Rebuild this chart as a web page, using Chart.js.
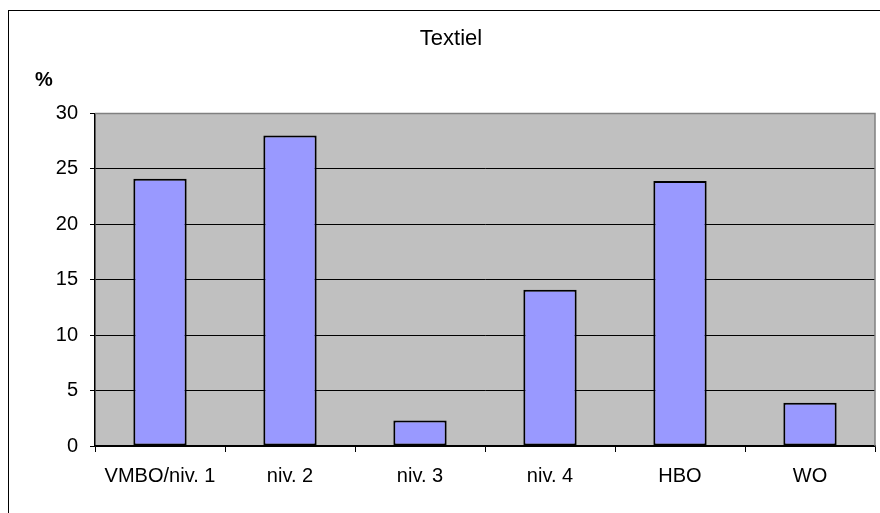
<!DOCTYPE html>
<html>
<head>
<meta charset="utf-8">
<script src="https://cdn.jsdelivr.net/npm/chart.js@4.4.0/dist/chart.umd.min.js"></script>
<style>
    html, body { margin: 0; padding: 0; background: #fff; }
    #wrap { width: 880px; height: 513px; }
</style>
</head>
<body>
<div id="wrap"><canvas id="textielChart" width="880" height="513"></canvas></div>
<script>
// data
const categories = ['VMBO/niv. 1', 'niv. 2', 'niv. 3', 'niv. 4', 'HBO', 'WO'];
const percentages = [24.1, 28.0, 2.3, 14.1, 23.9, 3.9];
const yTicks = [0, 5, 10, 15, 20, 25, 30];

const FONT = "'Liberation Sans', Arial, sans-serif";

// frame, grey plot area and "%" label
const excelLook = {
    id: 'excelLook',
    beforeDraw(chart) {
        const { ctx, chartArea: a } = chart;
        ctx.save();
        ctx.fillStyle = '#C0C0C0';
        ctx.fillRect(a.left, a.top, a.right - a.left, a.bottom - a.top);
        ctx.restore();
    },
    afterDraw(chart) {
        const { ctx, chartArea: a } = chart;
        ctx.save();
        // plot border top / right
        ctx.strokeStyle = '#808080';
        ctx.lineWidth = 1.5;
        ctx.beginPath();
        ctx.moveTo(a.left, a.top);
        ctx.lineTo(a.right, a.top);
        ctx.lineTo(a.right, a.bottom);
        ctx.stroke();
        // outer frame
        ctx.strokeStyle = '#000';
        ctx.lineWidth = 1;
        ctx.strokeRect(8.5, 10.5, 900, 600);
        // "%" unit label
        ctx.fillStyle = '#000';
        ctx.font = 'bold 20px ' + FONT;
        ctx.textAlign = 'left';
        ctx.textBaseline = 'alphabetic';
        ctx.fillText('%', 35, 86);
        ctx.restore();
    }
};

new Chart(document.getElementById('textielChart'), {
    type: 'bar',
    data: {
        labels: categories,
        datasets: [{
            data: percentages,
            backgroundColor: '#9999FF',
            borderColor: '#000',
            borderWidth: 2,
            borderSkipped: false,
            categoryPercentage: 1,
            barPercentage: 0.41
        }]
    },
    options: {
        responsive: false,
        animation: false,
        layout: { padding: { left: 27, right: 5, top: 0, bottom: 0 } },
        plugins: {
            legend: { display: false },
            tooltip: { enabled: false },
            title: {
                display: true,
                text: 'Textiel',
                color: '#000',
                font: { family: FONT, size: 22, weight: 'normal' },
                padding: { top: 26, bottom: 61 }
            }
        },
        scales: {
            x: {
                grid: {
                    display: true,
                    drawOnChartArea: false,
                    drawTicks: true,
                    tickLength: 6,
                    color: '#000',
                    offset: true
                },
                border: { color: '#000', width: 1.5 },
                ticks: {
                    color: '#000',
                    font: { family: FONT, size: 20 },
                    padding: 12,
                    maxRotation: 0
                },
                afterFit(scale) { scale.height = 67; }
            },
            y: {
                min: 0,
                max: 30,
                afterBuildTicks(scale) {
                    scale.ticks = yTicks.map(v => ({ value: v }));
                },
                grid: {
                    color: ctx => (ctx.tick && ctx.tick.value === 30) ? '#808080' : '#000',
                    tickColor: '#000',
                    tickLength: 5,
                    lineWidth: 1
                },
                border: { color: '#000', width: 1.5 },
                ticks: {
                    color: '#000',
                    font: { family: FONT, size: 20 },
                    padding: 12
                },
                afterFit(scale) { scale.width = 68; }
            }
        }
    },
    plugins: [excelLook]
});
</script>
</body>
</html>
